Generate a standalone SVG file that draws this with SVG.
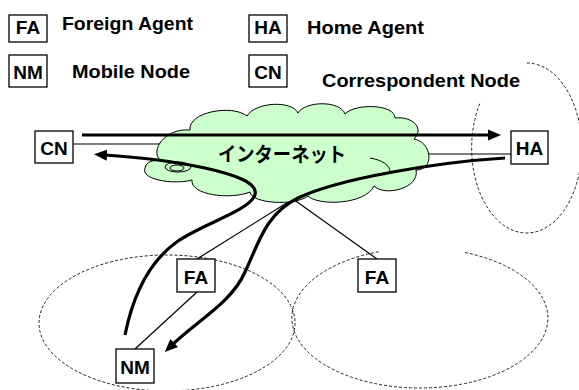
<svg xmlns="http://www.w3.org/2000/svg" width="579" height="390" viewBox="0 0 579 390">
<defs>
<style>
.box{fill:#fff;stroke:#000;stroke-width:1.3}
.lbl{font-family:"Liberation Sans",Arial,sans-serif;font-weight:bold;font-size:19px;fill:#000;text-anchor:middle}
.leg{font-family:"Liberation Sans",Arial,sans-serif;font-weight:bold;font-size:19px;fill:#000}
.zone{fill:none;stroke:#222;stroke-width:1;stroke-dasharray:3,2}
.thin{fill:none;stroke:#000;stroke-width:1.2}
.thick{fill:none;stroke:#000;stroke-width:3.2}
</style>
<marker id="ah" markerUnits="userSpaceOnUse" markerWidth="16" markerHeight="14" refX="3" refY="6" orient="auto">
<path d="M0,0.5 L13,6 L0,11.5 z" fill="#000"/>
</marker>
</defs>
<g id="legend">
<g id="leg-fa"><rect class="box" x="9" y="15" width="38" height="27"/><text class="lbl" x="28" y="34">FA</text><text class="leg" x="62" y="29.5" textLength="131" lengthAdjust="spacingAndGlyphs">Foreign Agent</text></g>
<g id="leg-ha"><rect class="box" x="249" y="15" width="38" height="27"/><text class="lbl" x="268" y="34">HA</text><text class="leg" x="307" y="33.5" textLength="117" lengthAdjust="spacingAndGlyphs">Home Agent</text></g>
<g id="leg-nm"><rect class="box" x="9" y="55" width="38" height="32"/><text class="lbl" x="28" y="79">NM</text><text class="leg" x="72" y="77.5" textLength="118" lengthAdjust="spacingAndGlyphs">Mobile Node</text></g>
<g id="leg-cn"><rect class="box" x="249" y="55" width="38" height="32"/><text class="lbl" x="268" y="79">CN</text><text class="leg" x="322" y="87" textLength="198" lengthAdjust="spacingAndGlyphs">Correspondent Node</text></g>
</g>
<g id="zones">
<ellipse class="zone" cx="167" cy="323" rx="128" ry="68"/>
<path class="zone" d="M465,252.5 A128,70 0 1 1 380,251.5"/>
<path class="zone" d="M527,63 A55,85 0 1 1 480,103"/>
</g>
<g id="connectors-thin">
<path class="thin" d="M73,144 H170"/>
<path class="thin" d="M410,154 H511"/>
<path class="thin" d="M293,199 L197,259"/>
<path class="thin" d="M293,199 L377,259"/>
<path class="thin" d="M197,292 L135,349"/>
</g>
<g id="internet">
<path d="M160,160 C150,150 165,128 190,130 C188,112 232,104 247,116 C255,102 292,100 298,113 C305,101 340,100 345,114 C355,103 395,104 395,118 C412,116 425,128 414,139 C432,142 435,170 416,170 C420,188 385,197 374,186 C365,205 318,206 308,196 C295,206 252,204 250,192 C230,200 190,195 192,180 C175,185 140,180 145,168 C146,162 153,160 160,160 Z" fill="#ccffcc" stroke="#000" stroke-width="1"/>
<path d="M370,158 C382,160 390,165 390,172" fill="none" stroke="#000" stroke-width="1"/>
<ellipse cx="178" cy="167" rx="13" ry="5" fill="none" stroke="#000" stroke-width="1"/>
<ellipse cx="177" cy="168" rx="7" ry="3" fill="none" stroke="#000" stroke-width="1"/>
</g>
<g id="connectors-thick">
<path class="thick" d="M82,135 H491" marker-end="url(#ah)"/>
<path class="thick" d="M125,335 C133,295 148,262 178,241 C205,223 245,212 254,197 C262,183 232,174 205,168 C172,161 135,157 104,155" marker-end="url(#ah)"/>
<path class="thick" d="M505,158 C440,162 340,178 298,198 C265,214 258,245 245,272 C232,302 198,320 172,345" marker-end="url(#ah)"/>
</g>
<text x="218" y="162" font-family="'Noto Sans CJK JP',sans-serif" font-weight="bold" font-size="20" textLength="128" lengthAdjust="spacingAndGlyphs" fill="#000">インターネット</text>
<g id="node-cn"><rect class="box" x="35" y="131" width="38" height="32"/><text class="lbl" x="54" y="155">CN</text></g>
<g id="node-ha"><rect class="box" x="511" y="131" width="37" height="33"/><text class="lbl" x="529.5" y="155">HA</text></g>
<g id="node-fa1"><rect class="box" x="177" y="259" width="38" height="33"/><text class="lbl" x="196" y="283.5">FA</text></g>
<g id="node-fa2"><rect class="box" x="358" y="259" width="38" height="33"/><text class="lbl" x="377" y="283.5">FA</text></g>
<g id="node-nm"><rect class="box" x="116" y="349" width="38" height="34"/><text class="lbl" x="135" y="374">NM</text></g>
</svg>
